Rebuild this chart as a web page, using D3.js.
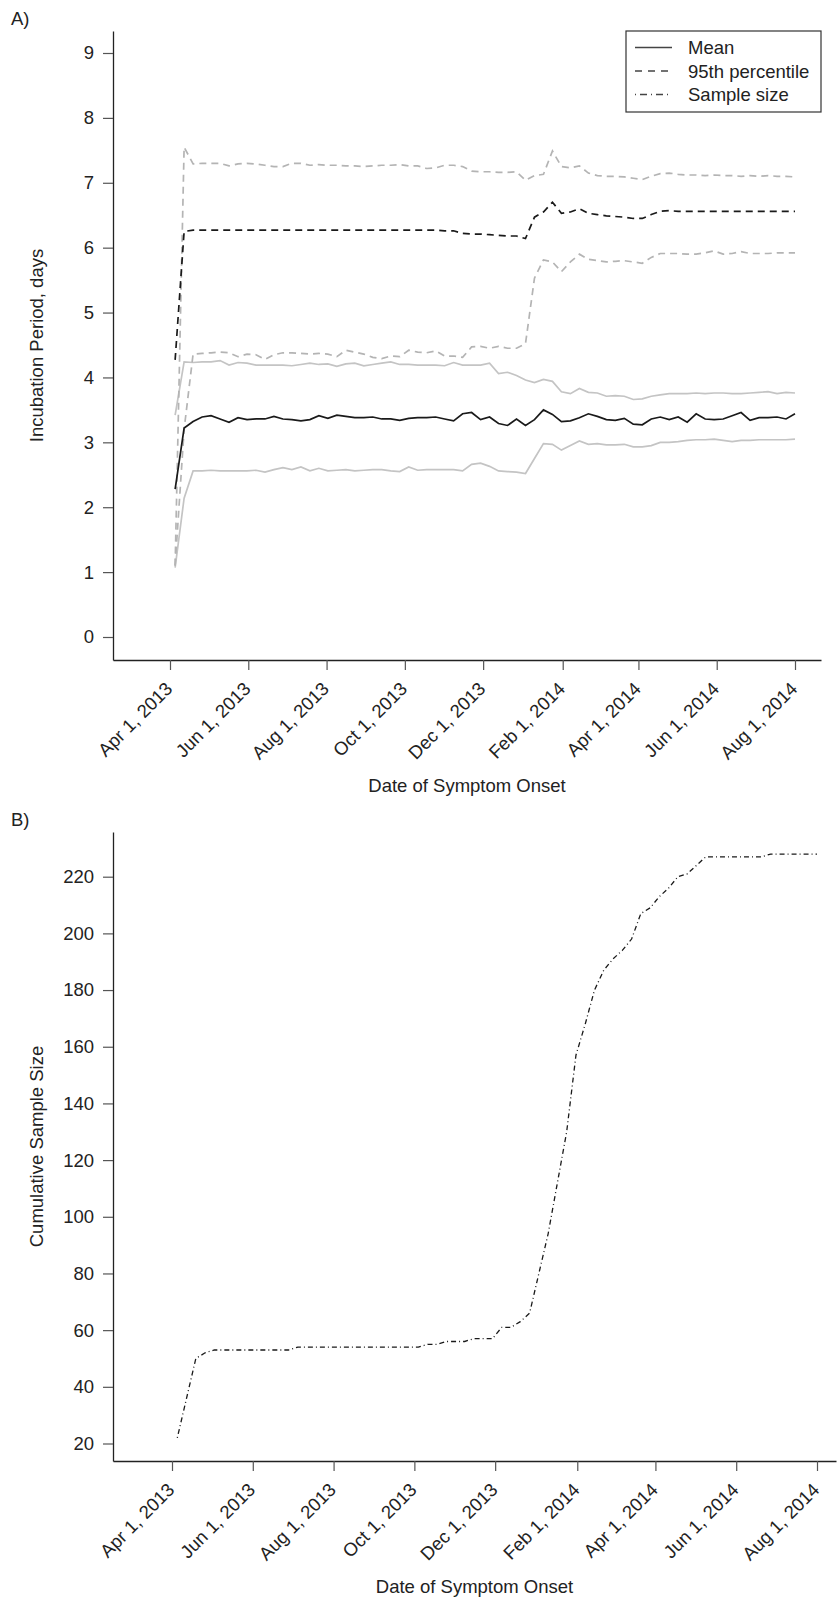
<!DOCTYPE html>
<html lang="en">
<head>
  <meta charset="utf-8" />
  <style>
    body { margin: 0; background: #fff; }
    svg { display: block; font-family: "Liberation Sans", Arial, sans-serif; }
  </style>
</head>
<body>
<div id="container"></div>
<script src="https://cdn.jsdelivr.net/npm/d3@7"></script>
<script>

// weekly estimates, first week ending Apr 5 2013, last Aug 1 2014 (70 weeks)
const startDate = new Date(2013, 3, 5);
const nWeeks = 70;

const meanVals = [2.28, 3.22, 3.32, 3.39, 3.41, 3.36, 3.31, 3.38, 3.35, 3.36,
  3.36, 3.40, 3.36, 3.35, 3.33, 3.35, 3.41, 3.37, 3.42, 3.40,
  3.38, 3.38, 3.39, 3.36, 3.36, 3.34, 3.37, 3.38, 3.38, 3.39,
  3.36, 3.33, 3.44, 3.46, 3.35, 3.39, 3.29, 3.26, 3.36, 3.26,
  3.35, 3.50, 3.43, 3.32, 3.33, 3.38, 3.44, 3.40, 3.35, 3.34,
  3.37, 3.28, 3.27, 3.36, 3.39, 3.35, 3.39, 3.31, 3.44, 3.36,
  3.35, 3.36, 3.41, 3.46, 3.34, 3.38, 3.38, 3.39, 3.36, 3.44];

const meanUpper = [3.42, 4.24, 4.23, 4.24, 4.24, 4.26, 4.19, 4.23, 4.22, 4.19,
  4.19, 4.19, 4.19, 4.18, 4.20, 4.22, 4.20, 4.21, 4.17, 4.21,
  4.22, 4.18, 4.20, 4.22, 4.24, 4.20, 4.20, 4.19, 4.19, 4.19,
  4.18, 4.23, 4.19, 4.19, 4.19, 4.22, 4.06, 4.08, 4.03, 3.96,
  3.92, 3.97, 3.94, 3.78, 3.75, 3.83, 3.77, 3.76, 3.71, 3.72,
  3.71, 3.66, 3.67, 3.71, 3.73, 3.75, 3.75, 3.75, 3.76, 3.75,
  3.76, 3.76, 3.75, 3.75, 3.76, 3.77, 3.78, 3.75, 3.77, 3.76];

const meanLower = [1.07, 2.14, 2.56, 2.56, 2.57, 2.56, 2.56, 2.56, 2.56, 2.57,
  2.54, 2.58, 2.61, 2.58, 2.62, 2.56, 2.60, 2.56, 2.57, 2.58,
  2.56, 2.57, 2.58, 2.58, 2.56, 2.55, 2.62, 2.57, 2.58, 2.58,
  2.58, 2.58, 2.56, 2.66, 2.68, 2.63, 2.56, 2.55, 2.54, 2.52,
  2.75, 2.98, 2.97, 2.88, 2.95, 3.02, 2.97, 2.98, 2.96, 2.96,
  2.97, 2.93, 2.93, 2.95, 3.00, 3.00, 3.01, 3.03, 3.04, 3.04,
  3.05, 3.03, 3.01, 3.03, 3.03, 3.04, 3.04, 3.04, 3.04, 3.05];

const p95Vals = [4.27, 6.25, 6.27, 6.27, 6.27, 6.27, 6.27, 6.27, 6.27, 6.27,
  6.27, 6.27, 6.27, 6.27, 6.27, 6.27, 6.27, 6.27, 6.27, 6.27,
  6.27, 6.27, 6.27, 6.27, 6.27, 6.27, 6.27, 6.27, 6.27, 6.27,
  6.26, 6.26, 6.22, 6.21, 6.21, 6.20, 6.19, 6.18, 6.18, 6.14,
  6.47, 6.55, 6.70, 6.53, 6.55, 6.60, 6.53, 6.51, 6.49, 6.48,
  6.47, 6.45, 6.45, 6.51, 6.56, 6.57, 6.56, 6.56, 6.56, 6.56,
  6.56, 6.56, 6.56, 6.56, 6.56, 6.56, 6.56, 6.56, 6.56, 6.56];

const p95Upper = [1.10, 7.55, 7.29, 7.30, 7.30, 7.30, 7.26, 7.29, 7.30, 7.29,
  7.27, 7.25, 7.25, 7.30, 7.30, 7.27, 7.28, 7.27, 7.27, 7.26,
  7.26, 7.25, 7.26, 7.27, 7.27, 7.28, 7.26, 7.26, 7.22, 7.23,
  7.27, 7.27, 7.25, 7.18, 7.17, 7.17, 7.16, 7.16, 7.17, 7.04,
  7.11, 7.13, 7.49, 7.25, 7.23, 7.26, 7.15, 7.11, 7.10, 7.10,
  7.09, 7.07, 7.05, 7.10, 7.14, 7.15, 7.13, 7.12, 7.12, 7.11,
  7.12, 7.11, 7.11, 7.10, 7.11, 7.10, 7.11, 7.10, 7.10, 7.09];

const p95Lower = [1.10, 3.20, 4.36, 4.37, 4.38, 4.39, 4.38, 4.32, 4.36, 4.35,
  4.28, 4.35, 4.38, 4.38, 4.37, 4.36, 4.37, 4.36, 4.32, 4.42,
  4.39, 4.36, 4.31, 4.29, 4.33, 4.32, 4.42, 4.39, 4.38, 4.41,
  4.33, 4.33, 4.31, 4.47, 4.48, 4.45, 4.48, 4.45, 4.45, 4.52,
  5.53, 5.81, 5.78, 5.63, 5.78, 5.90, 5.82, 5.80, 5.78, 5.79,
  5.80, 5.78, 5.76, 5.85, 5.91, 5.91, 5.91, 5.90, 5.90, 5.92,
  5.95, 5.90, 5.91, 5.94, 5.91, 5.91, 5.91, 5.92, 5.92, 5.92];

const cumSample = [22, 36, 50, 52, 53, 53, 53, 53, 53, 53,
  53, 53, 53, 54, 54, 54, 54, 54, 54, 54,
  54, 54, 54, 54, 54, 54, 54, 55, 55, 56,
  56, 56, 57, 57, 57, 61, 61, 63, 66, 80,
  94, 112, 130, 157, 168, 180, 187, 191, 194, 198,
  207, 209, 213, 216, 220, 221, 224, 227, 227, 227,
  227, 227, 227, 227, 228, 228, 228, 228, 228, 228];

const tickDates = [new Date(2013, 3, 1), new Date(2013, 5, 1), new Date(2013, 7, 1),
  new Date(2013, 9, 1), new Date(2013, 11, 1), new Date(2014, 1, 1),
  new Date(2014, 3, 1), new Date(2014, 5, 1), new Date(2014, 7, 1)];
const ticksA = [0, 1, 2, 3, 4, 5, 6, 7, 8, 9];
const ticksB = [20, 40, 60, 80, 100, 120, 140, 160, 180, 200, 220];

const legendItems = [
  { label: 'Mean', dash: null },
  { label: '95th percentile', dash: '7,6' },
  { label: 'Sample size', dash: '1,4,7,4' }
];

const weeks = d3.range(nWeeks).map(i => d3.timeDay.offset(startDate, 7 * i));
const fmt = d3.timeFormat('%b %-d, %Y');
const fontSize = '18.5px';

const W = 838, H = 1603;
const svg = d3.select('#container').append('svg')
  .attr('width', W)
  .attr('height', H);

// --- scales, panel A ---
const xA = d3.scaleTime().domain([tickDates[0], tickDates[8]]).range([170, 795]);
xA.domain([xA.invert(113), xA.invert(821)]).range([113, 821]);
const yA = d3.scaleLinear().domain([0, 9]).range([637, 53]);
yA.domain([yA.invert(660), yA.invert(31)]).range([660, 31]);

// --- scales, panel B ---
const xB = d3.scaleTime().domain([tickDates[0], tickDates[8]]).range([172, 817]);
xB.domain([xB.invert(113), xB.invert(836)]).range([113, 836]);
const yB = d3.scaleLinear().domain([20, 220]).range([1443.5, 876.7]);
yB.domain([yB.invert(1461), yB.invert(832)]).range([1461, 832]);

function drawAxes(x, y, yTicks, yTitle, panel) {
  const [y0, y1] = y.range();
  const gx = svg.append('g')
    .attr('transform', `translate(0, ${y0})`)
    .call(d3.axisBottom(x).tickValues(tickDates).tickFormat(fmt).tickSize(10).tickSizeOuter(0));
  gx.select('.domain').attr('stroke', '#222').attr('stroke-width', 1.3);
  gx.selectAll('.tick line').attr('stroke', '#555').attr('stroke-width', 1.2);
  gx.selectAll('.tick text')
    .attr('x', 0).attr('y', 0).attr('dy', 0)
    .attr('transform', 'translate(3, 30) rotate(-45)')
    .attr('text-anchor', 'end')
    .attr('fill', '#222')
    .style('font-size', fontSize)
    .style('font-family', '"Liberation Sans", Arial, sans-serif');

  const gy = svg.append('g')
    .attr('transform', `translate(${x.range()[0]}, 0)`)
    .call(d3.axisLeft(y).tickValues(yTicks).tickSize(10).tickPadding(9).tickSizeOuter(0));
  gy.select('.domain').attr('stroke', '#222').attr('stroke-width', 1.3);
  gy.selectAll('.tick line').attr('stroke', '#555').attr('stroke-width', 1.2);
  gy.selectAll('.tick text')
    .attr('fill', '#222')
    .style('font-size', fontSize)
    .style('font-family', '"Liberation Sans", Arial, sans-serif');

  // titles
  const xm = (x.range()[0] + x.range()[1]) / 2;
  svg.append('text')
    .attr('x', xm)
    .attr('y', y0 + 132)
    .attr('text-anchor', 'middle')
    .attr('fill', '#222')
    .style('font-size', fontSize)
    .text('Date of Symptom Onset');

  svg.append('text')
    .attr('transform', `translate(43, ${(y0 + y1) / 2}) rotate(-90)`)
    .attr('text-anchor', 'middle')
    .attr('fill', '#222')
    .style('font-size', fontSize)
    .text(yTitle);

  svg.append('text')
    .attr('x', 11)
    .attr('y', y1 - 6)
    .attr('fill', '#222')
    .style('font-size', fontSize)
    .text(panel);
}

drawAxes(xA, yA, ticksA, 'Incubation Period, days', 'A)');
drawAxes(xB, yB, ticksB, 'Cumulative Sample Size', 'B)');

// --- panel A lines ---
const lineA = vals => d3.line()
  .x((d, i) => xA(weeks[i]))
  .y(d => yA(d))(vals);

const seriesA = [
  { vals: meanUpper, color: '#c4c4c4', dash: null },
  { vals: meanLower, color: '#c4c4c4', dash: null },
  { vals: p95Upper, color: '#b4b4b4', dash: '7,5' },
  { vals: p95Lower, color: '#b4b4b4', dash: '7,5' },
  { vals: p95Vals, color: '#1a1a1a', dash: '7,5' },
  { vals: meanVals, color: '#1a1a1a', dash: null }
];

svg.append('g').selectAll('path')
  .data(seriesA)
  .enter()
  .append('path')
  .attr('d', d => lineA(d.vals))
  .attr('fill', 'none')
  .attr('stroke', d => d.color)
  .attr('stroke-width', 1.7)
  .attr('stroke-dasharray', d => d.dash);

// legend
const lg = svg.append('g').attr('transform', 'translate(626, 31)');
lg.append('rect')
  .attr('x', 0).attr('y', 0)
  .attr('width', 195).attr('height', 81)
  .attr('fill', '#fff')
  .attr('stroke', '#333')
  .attr('stroke-width', 1.2);
legendItems.forEach((d, i) => {
  const cy = 16.5 + i * 23.5;
  lg.append('line')
    .attr('x1', 9).attr('x2', 46)
    .attr('y1', cy).attr('y2', cy)
    .attr('stroke', '#444')
    .attr('stroke-width', 1.3)
    .attr('stroke-dasharray', d.dash);
  lg.append('text')
    .attr('x', 62).attr('y', cy)
    .attr('dy', '0.36em')
    .attr('fill', '#222')
    .style('font-size', fontSize)
    .text(d.label);
});

// --- panel B line ---
svg.append('path')
  .attr('d', d3.line()
    .x((d, i) => xB(weeks[i]))
    .y(d => yB(d))(cumSample))
  .attr('fill', 'none')
  .attr('stroke', '#1a1a1a')
  .attr('stroke-width', 1.3)
  .attr('stroke-dasharray', '1,3,5,3');

</script>
</body>
</html>
